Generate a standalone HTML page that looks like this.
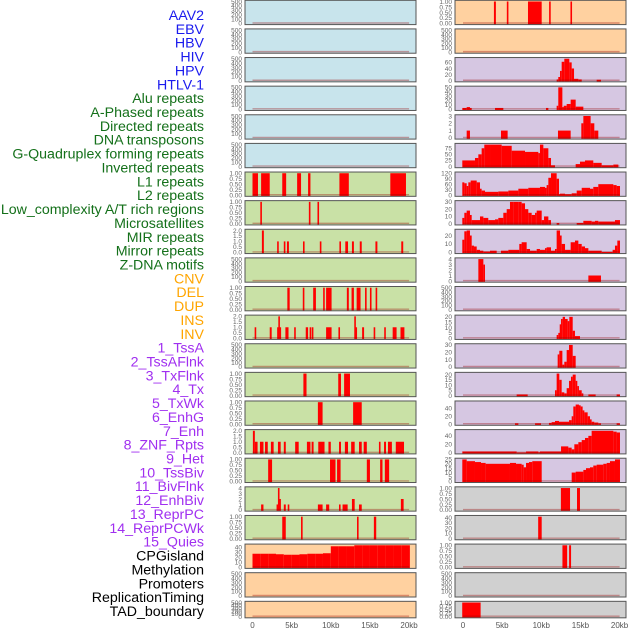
<!DOCTYPE html>
<html><head><meta charset="utf-8">
<style>
html,body{margin:0;padding:0;background:#fff;}
svg{display:block;font-family:"Liberation Sans",sans-serif;}
</style></head>
<body>
<svg id="chart" width="630" height="630" viewBox="0 0 630 630" xmlns="http://www.w3.org/2000/svg"></svg>
<script>
// ---------- data ----------
const labels = ["AAV2","EBV","HBV","HIV","HPV","HTLV-1","Alu repeats","A-Phased repeats","Directed repeats","DNA transposons","G-Quadruplex forming repeats","Inverted repeats","L1 repeats","L2 repeats","Low_complexity A/T rich regions","Microsatellites","MIR repeats","Mirror repeats","Z-DNA motifs","CNV","DEL","DUP","INS","INV","1_TssA","2_TssAFlnk","3_TxFlnk","4_Tx","5_TxWk","6_EnhG","7_Enh","8_ZNF_Rpts","9_Het","10_TssBiv","11_BivFlnk","12_EnhBiv","13_ReprPC","14_ReprPCWk","15_Quies","CPGisland","Methylation","Promoters","ReplicationTiming","TAD_boundary"];
const labelGroups = [0,0,0,0,0,0,1,1,1,1,1,1,1,1,1,1,1,1,1,2,2,2,2,2,3,3,3,3,3,3,3,3,3,3,3,3,3,3,3,4,4,4,4,4];
const xTicks = [0,5,10,15,20];
const xTickLabels = ["0","5kb","10kb","15kb","20kb"];

const T500 = ["0","100","200","300","400","500"];
const V500 = [0,100,200,300,400,500];
const T1 = ["0.00","0.25","0.50","0.75","1.00"];
const V1 = [0,0.25,0.5,0.75,1];
const T2 = ["0.0","0.5","1.0","1.5","2.0"];
const V2 = [0,0.5,1,1.5,2];

const alu = [[0,0.7,1],[1.1,2.2,1],[3.8,4.3,1],[5.7,6.2,1],[7.1,7.4,1],[11.1,12.3,1],[17.6,19.6,1]];
const aPhased = [[1.0,1.2,1],[7.2,7.4,1],[8.3,8.5,1]];
const directed = [[1.2,1.45,2],[3.15,3.35,1],[4.0,4.2,1],[4.4,4.65,1],[6.45,6.65,1],[8.6,8.8,1],[11.1,11.3,1],[11.85,12.2,1],[12.7,12.95,1],[13.7,13.95,1],[15.7,15.95,1],[19.0,19.25,1]];
const gquad = [[4.45,4.75,1],[6.45,6.6,1],[7.75,8.1,1],[9.05,9.2,1],[9.4,10.1,1],[12.05,12.3,1],[12.65,12.95,1],[13.3,13.8,1],[14.4,14.55,1],[15.0,15.2,1],[15.75,15.9,1]];
const inverted = [[0.3,0.45,1],[2.2,2.45,1],[3.2,3.3,1],[3.3,3.5,2],[3.5,3.6,1],[4.2,4.6,1],[5.35,5.5,1],[6.8,7.1,1],[7.3,7.5,1],[7.6,7.75,1],[9.4,10.1,1],[11.0,11.15,1],[13.0,13.2,2],[13.2,13.3,1],[14.0,14.25,1],[15.5,15.65,1],[16.85,17.0,1],[17.9,18.4,1],[18.9,19.4,1]];
const l2 = [[6.5,6.9,1],[10.95,11.3,1],[11.7,12.45,1]];
const lowComplexity = [[8.35,8.95,1],[12.85,13.95,1]];
const microsat = [[0.05,0.3,2],[0.3,0.65,1],[0.95,1.4,1],[1.6,1.95,1],[2.35,2.7,1],[3.25,3.6,1],[4.0,4.25,1],[5.45,5.9,1],[6.95,7.4,1],[7.55,7.8,1],[8.4,9.2,1],[9.7,10.0,1],[11.05,11.3,1],[11.8,12.2,1],[12.6,13.05,1],[13.6,13.95,1],[14.2,14.6,1],[16.15,16.35,1],[16.8,17.05,1],[17.3,17.8,1],[18.3,19.35,1]];
const mir = [[2.0,2.5,1],[9.9,10.6,1],[10.8,11.25,1],[14.6,15.0,1],[16.3,16.6,1],[16.9,17.45,1]];
const mirror = [[1.1,1.4,1],[3.1,3.25,1],[3.25,3.45,4],[3.45,3.6,2],[4.0,4.25,1],[4.5,4.7,1],[8.35,8.95,1],[9.4,9.8,1],[11.05,11.25,1],[11.5,12.15,1],[12.7,13.05,2],[13.6,13.95,1],[18.95,19.3,2]];
const zdna = [[3.8,4.25,1],[6.2,6.4,1],[13.35,13.55,1],[15.5,15.8,1]];
const cnv = [[0,1,27],[1,2,27],[2,3,27],[3,4,26],[4,5,25],[5,6,25],[6,7,26],[7,8,27],[8,9,27],[9,10,28],[10,11,42],[11,12,42],[12,13,42],[13,14,44],[14,15,44],[15,16,45],[16,17,45],[17,18,44],[18,19,44],[19,20.1,44]];
const ins = [[3.95,4.2,1],[5.6,5.8,1],[8.3,10.05,1],[11.0,11.2,1],[13.75,13.9,1]];
const tssA = [[11.96,12.17,4],[12.17,12.39,12],[12.39,12.6,32],[12.6,12.94,62],[12.94,13.58,75],[13.58,13.88,60],[13.88,14.18,40],[14.18,14.73,6],[14.73,15.16,4],[17.07,17.62,3]];
const tssAFlnk = [[-0.09,0.47,3],[0.47,0.89,5],[0.89,1.11,3],[4.09,5.15,3],[10.6,10.9,3],[11.96,12.17,8],[12.17,12.69,55],[12.69,12.86,5],[12.86,13.24,8],[13.24,13.75,12],[13.75,14.39,22],[14.39,15.37,6]];
const txFlnk = [[0.47,0.89,1],[4.85,5.7,1],[12.13,13.75,1],[15.11,15.37,2],[15.37,16.3,3],[16.3,16.77,2],[16.77,17.28,1]];
const tx = [[-0.09,1.53,25],[1.53,1.96,35],[1.96,2.38,50],[2.38,2.72,75],[2.72,3.45,90],[3.45,4.94,95],[4.94,6.22,85],[6.22,7.92,65],[7.92,9.62,60],[9.62,9.83,55],[9.83,10.26,95],[10.26,10.9,75],[10.9,11.24,35],[11.24,11.75,5],[14.39,14.94,10],[14.94,15.58,20],[15.58,16.64,25],[16.64,17.71,15],[17.71,19.2,5],[19.2,19.84,8]];
const txWk = [[-0.09,0.17,70],[0.17,0.47,65],[0.47,0.68,50],[0.68,0.98,70],[0.98,1.75,80],[1.75,2.17,70],[2.17,2.38,35],[2.38,2.81,25],[2.81,4.51,18],[4.51,5.79,20],[5.79,7.07,25],[7.07,8.34,35],[8.34,9.83,40],[9.83,10.47,45],[10.47,10.68,40],[10.68,10.9,55],[10.9,11.24,95],[11.24,11.96,120],[11.96,12.26,90],[12.26,12.39,5],[12.39,13.03,8],[13.03,13.88,5],[13.88,14.52,10],[14.52,15.16,25],[15.16,16.22,40],[16.22,16.64,35],[16.64,17.28,45],[17.28,19.2,60],[19.2,19.62,55],[19.62,20.05,50]];
const enhG = [[-0.09,0.17,8],[0.17,0.47,15],[0.47,0.89,18],[0.89,1.11,12],[1.11,2.17,5],[2.17,2.6,10],[2.6,3.23,8],[3.23,4.09,5],[4.09,4.51,6],[4.51,5.15,8],[5.15,5.58,15],[5.58,6.0,20],[6.0,6.43,30],[6.43,7.07,35],[7.07,7.49,30],[7.49,7.92,28],[7.92,8.34,20],[8.34,8.77,15],[8.77,9.2,12],[9.2,9.41,15],[9.41,10.05,18],[10.05,10.35,5],[10.35,10.9,10],[10.9,11.24,5],[11.96,12.3,1],[14.52,15.37,1],[15.37,16.43,4],[16.43,16.86,3],[16.86,17.28,4],[17.28,19.41,3],[19.41,20.05,5]];
const enh = [[-0.09,0.17,15],[0.17,0.47,25],[0.47,0.89,27],[0.89,1.11,20],[1.11,1.4,8],[1.4,1.75,7],[1.75,2.17,3],[2.17,2.6,2],[2.6,3.45,1],[3.45,4.3,2],[4.85,5.79,2],[5.79,7.19,3],[7.19,7.49,10],[7.49,8.13,12],[8.13,8.56,4],[8.56,9.41,2],[9.41,9.83,4],[9.83,10.47,3],[10.47,10.68,5],[10.68,11.24,6],[11.24,11.75,2],[11.75,11.96,4],[11.96,12.39,27],[12.39,12.6,20],[12.6,13.03,10],[13.03,13.75,3],[13.75,14.3,12],[14.3,14.73,14],[14.73,15.16,10],[15.16,15.58,7],[15.58,16.01,5],[16.01,17.71,2],[17.71,19.11,0.5],[19.11,19.41,3],[19.41,19.71,8],[19.71,20.05,14]];
const znf = [[1.96,2.6,4],[2.6,2.81,3],[16.01,17.62,1]];
const tssBiv = [[11.96,12.17,3],[12.17,12.39,5],[12.39,12.52,13],[12.52,12.73,18],[12.73,13.03,20],[13.03,13.37,18],[13.37,13.58,16],[13.58,14.01,20],[14.01,14.3,7],[14.3,14.94,2]];
const bivFlnk = [[12.09,12.3,17],[12.3,12.69,22],[12.69,12.94,3],[12.94,13.24,7],[13.24,13.54,23],[13.54,14.01,30],[14.01,14.39,15]];
const enhBiv = [[6.85,8.26,1],[11.75,11.96,5],[11.96,12.3,22],[12.3,12.6,15],[12.6,12.94,3],[12.94,13.24,2],[13.24,13.54,7],[13.54,13.79,14],[13.79,14.01,18],[14.01,14.39,20],[14.39,14.6,14],[14.6,14.81,9],[14.81,15.16,5],[15.16,15.37,2],[16.01,16.94,1],[19.62,20.05,1]];
const reprPC = [[6.64,7.07,2],[9.2,9.96,2],[10.98,11.32,3],[11.32,11.75,5],[11.75,12.26,8],[12.26,13.54,6],[13.54,13.88,10],[13.88,14.09,20],[14.09,14.39,45],[14.39,14.81,50],[14.81,15.03,48],[15.03,15.28,45],[15.28,15.5,35],[15.5,15.92,30],[15.92,16.22,20],[16.22,16.43,12],[16.43,16.77,6],[16.77,17.28,4],[17.28,17.62,2],[19.62,20.05,2]];
const reprPCWk = [[-0.09,6.85,3],[6.85,8.05,0.5],[8.05,9.62,3],[9.62,9.83,1],[9.83,12.52,3],[12.52,13.45,15],[13.45,13.88,12],[13.88,14.22,8],[14.22,14.73,20],[14.73,15.16,25],[15.16,15.58,30],[15.58,16.01,35],[16.01,16.43,40],[16.43,19.2,52],[19.2,19.62,50],[19.62,20.05,48]];
const quies = [[-0.09,0.47,25],[0.47,1.53,23],[1.53,2.3,22],[2.3,2.89,21],[2.89,6.0,20],[6.0,6.77,21],[6.77,7.49,20],[7.49,7.75,19],[7.75,8.05,16],[8.05,8.43,21],[8.43,8.85,22],[8.85,10.05,23],[13.88,14.39,10],[14.39,15.37,11],[15.37,15.71,13],[15.71,16.22,15],[16.22,16.64,16],[16.64,17.07,18],[17.07,17.92,19],[17.92,18.35,20],[18.35,18.77,21],[18.77,19.41,23],[19.41,20.05,25]];
const cpg = [[12.5,13.67,1],[14.56,14.94,1]];
const methylation = [[9.6,10.05,42]];
const promoters = [[12.7,13.3,1],[13.55,13.8,1]];
const tad = [[-0.1,2.25,1]];

const panelSeries = [[],[],[],[],[],[],alu,aPhased,directed,[],gquad,inverted,[],l2,lowComplexity,microsat,mir,mirror,zdna,cnv,[],[],
  ins,[],tssA,tssAFlnk,txFlnk,tx,txWk,enhG,enh,znf,[],tssBiv,bivFlnk,enhBiv,reprPC,reprPCWk,quies,cpg,methylation,promoters,[],tad];
const panelYMax = [500,500,500,500,500,500,1,1,2,500,1,2,500,1,1,2,1,4,1,44,500,500,
  1,500,72,50,3,90,120,30,26,4,500,20.5,30,21,56,52,25,1,42,1,500,1];
const panelTickVals = [V500,V500,V500,V500,V500,V500,V1,V1,V2,V500,V1,V2,V500,V1,V1,V2,V1,[0,1,2,3,4],V1,[0,10,20,30,40],V500,V500,
  V1,V500,[0,20,40,60],[0,10,20,30,40,50],[0,1,2,3],[0,25,50,75],[0,30,60,90,120],[0,10,20,30],[0,10,20],[0,1,2,3,4],V500,[0,5,10,15,20],[0,10,20,30],[0,5,10,15,20],[0,20,40],[0,20,40],[0,5,10,15,20,25],V1,[0,10,20,30,40],V1,V500,V1];
const panelTickLabels = panelTickVals.map(v => v===V1?T1:(v===V2?T2:v.map(String)));

// ---------- drawing ----------
const NS = "http://www.w3.org/2000/svg";
const svg = document.getElementById("chart");
function mk(tag, attrs, parent){ const e=document.createElementNS(NS,tag); for(const k in attrs) e.setAttribute(k,attrs[k]); (parent||svg).appendChild(e); return e; }

const groupColors = ["#1a1aee","#14701a","#ffa500","#a02ff0","#000000"];
const ROWS = 22, PITCH = 28.62;
const colLeft = [245, 455], colWidth = 171;
const zeroX = [252.5, 463], kbPx = 7.83;
function xScale(col, kb){ return zeroX[col] + kb*kbPx; }
function rowTop(r){ return 0.3 + r*PITCH; }
function rowH(r){ return r===ROWS-1 ? 16.5 : 24.3; }

function panelFill(i){
  if(i<6) return "#c8e4ec";
  if(i<19) return "#c9e1a6";
  if(i<24) return "#ffd1a0";
  if(i<39) return "#d6c7e2";
  return "#d0d0d0";
}

labels.forEach((t,i)=>{
  const el = mk("text",{x:204,y:15+i*13.86+5,"text-anchor":"end","font-size":"14.2",fill:groupColors[labelGroups[i]]});
  
  
  el.textContent = t;
});

const defs = mk("defs",{});
for(let i=0;i<44;i++){
  const col = i<22?0:1, r = i%22;
  const x0 = colLeft[col], y0 = rowTop(r), h = rowH(r), bottom = y0+h;
  const yMax = panelYMax[i];
  const yScale = v => bottom - 1.2 - Math.min(v,yMax)/yMax*(h-2.4);
  const g = mk("g",{});
  
  
  const bg = mk("rect",{x:x0,y:y0,width:colWidth,height:h,fill:panelFill(i)},g);
  
  
  const cp = mk("clipPath",{id:"cp"+i},defs);
  mk("rect",{x:x0,y:y0,width:colWidth,height:h},cp);
  const bars = mk("g",{"clip-path":"url(#cp"+i+")"},g);
  panelSeries[i].forEach(d=>{
    let xa = xScale(col,d[0]), xb = xScale(col,d[1]);
    if(xb-xa<1.6){ const m=(xa+xb)/2; xa=m-0.8; xb=m+0.8; }
    const yt = yScale(d[2]);
    const b = mk("rect",{x:xa.toFixed(2),y:yt.toFixed(2),width:(xb-xa).toFixed(2),height:(bottom-yt).toFixed(2),fill:"#ff0000"},bars);
    
    
  });
  const bl = mk("line",{x1:xScale(col,0),x2:xScale(col,20),y1:bottom-1.6,y2:bottom-1.6,stroke:"rgba(150,0,0,0.35)","stroke-width":1.4},g);
  
  
  const fr = mk("rect",{x:x0,y:y0,width:colWidth,height:h,fill:"none",stroke:"#555","stroke-width":1},g);
  
  
  panelTickVals[i].forEach((v,k)=>{
    const tt = mk("text",{x:x0-3,y:(yScale(v)+2.3).toFixed(2),"text-anchor":"end","font-size":"6.5",fill:"#666"},g);
    
    
    tt.textContent = panelTickLabels[i][k];
  });
}

[0,1].forEach(col=>{
  xTicks.forEach((v,k)=>{
    const t = mk("text",{x:xScale(col,v),y:628,"text-anchor":"middle","font-size":"8",fill:"#555"});
    
    
    t.textContent = xTickLabels[k];
  });
});
</script>
</body></html>
